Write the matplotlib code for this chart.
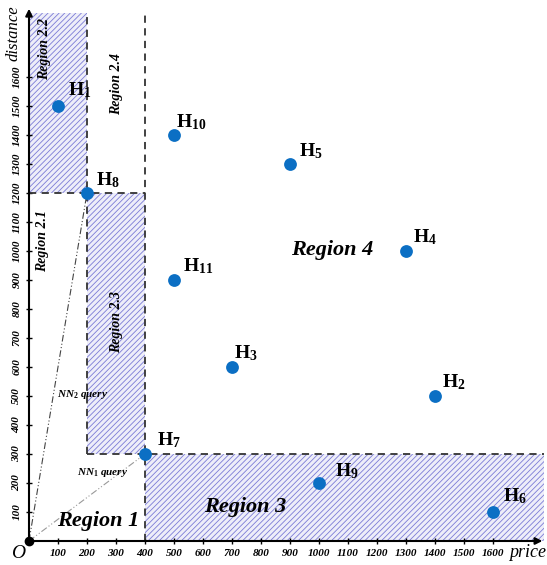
import matplotlib
matplotlib.use("Agg")
import matplotlib.pyplot as plt

plt.rcParams['font.family'] = ['Liberation Serif', 'DejaVu Serif']
plt.rcParams['mathtext.fontset'] = 'custom'
plt.rcParams['mathtext.rm'] = 'Liberation Serif:bold'
plt.rcParams['mathtext.bf'] = 'Liberation Serif:bold'
plt.rcParams['mathtext.it'] = 'Liberation Serif:bold:italic'
plt.rcParams['hatch.linewidth'] = 0.6

# ---- data ----
names = ['H1', 'H2', 'H3', 'H4', 'H5', 'H6', 'H7', 'H8', 'H9', 'H10', 'H11']
price = [100, 1400, 700, 1300, 900, 1600, 400, 200, 1000, 500, 500]
distance = [1500, 500, 600, 1000, 1300, 100, 300, 1200, 200, 1400, 900]
x_ticks = [100, 200, 300, 400, 500, 600, 700, 800, 900, 1000, 1100, 1200, 1300, 1400, 1500, 1600]
y_ticks = [100, 200, 300, 400, 500, 600, 700, 800, 900, 1000, 1100, 1200, 1300, 1400, 1500, 1600]
nn1_price, nn1_dist = 400, 300   # H7
nn2_price, nn2_dist = 200, 1200  # H8

XMAX, YMAX = 1785, 1850
TOP = 1820
RIGHT = 1775

W, H = 547, 565
fig = plt.figure(figsize=(W / 100, H / 100), dpi=100)
ax = fig.add_axes([29 / W, 24 / H, XMAX * 0.29 / W, YMAX * 0.29 / H])
ax.set_xlim(0, XMAX)
ax.set_ylim(0, YMAX)
for s in ['top', 'right', 'left', 'bottom']:
    ax.spines[s].set_visible(False)

hatch_kw = dict(facecolor='#eeeef9', edgecolor='#7b7bd6', hatch='//////', linewidth=0)
# Region 2.2
ax.fill_between([0, nn2_price], nn2_dist, TOP, zorder=1, **hatch_kw)
# Region 2.3
ax.fill_between([nn2_price, nn1_price], nn1_dist, nn2_dist, zorder=1, **hatch_kw)
# Region 3
ax.fill_between([nn1_price, RIGHT], 0, nn1_dist, zorder=1, **hatch_kw)

dash_kw = dict(color='#333333', lw=1.3, ls=(0, (4, 3)), zorder=2)
ax.plot([0, nn1_price], [nn2_dist, nn2_dist], **dash_kw)
ax.plot([nn2_price, RIGHT], [nn1_dist, nn1_dist], **dash_kw)
ax.plot([nn2_price, nn2_price], [nn1_dist, TOP], **dash_kw)
ax.plot([nn1_price, nn1_price], [0, TOP], **dash_kw)

# NN query lines
ax.plot([0, nn2_price], [0, nn2_dist], color='#444444', lw=0.8,
        ls=(0, (6, 2, 1, 2, 1, 2)), zorder=2)
ax.plot([0, nn1_price], [0, nn1_dist], color='#999999', lw=0.8,
        ls=(0, (6, 2, 1, 2, 1, 2)), zorder=2)

# axes with arrows
ax.annotate('', xy=(XMAX - 5, 0), xytext=(0, 0),
            arrowprops=dict(arrowstyle='-|>', color='black', lw=1.5, mutation_scale=10),
            annotation_clip=False, zorder=5)
ax.annotate('', xy=(0, YMAX - 5), xytext=(0, 0),
            arrowprops=dict(arrowstyle='-|>', color='black', lw=1.5, mutation_scale=10),
            annotation_clip=False, zorder=5)
ax.plot([0], [0], 'o', color='black', ms=6, zorder=6, clip_on=False)

# ticks
ax.set_xticks(x_ticks)
ax.set_yticks(y_ticks)
ax.set_xticklabels([str(v) for v in x_ticks], fontsize=8, fontweight='bold', fontstyle='italic')
ax.set_yticklabels([str(v) for v in y_ticks], fontsize=8, fontweight='bold', fontstyle='italic',
                   rotation=90, va='center')
ax.tick_params(axis='both', direction='inout', length=5, width=1, pad=3)

# axis labels
ax.text(-38, -42, 'O', fontsize=14, fontstyle='italic', ha='center', va='center')
ax.text(1655, -10, 'price', fontsize=13, fontstyle='italic', ha='left', va='top')
ax.text(-55, 1848, 'distance', fontsize=12, fontstyle='italic', ha='center', va='top',
        rotation=90)

# points
ax.scatter(price, distance, s=85, color='#0b6fc4', zorder=7, linewidths=0, clip_on=False)
offsets = {'H1': (10, 16), 'H2': (7, 14), 'H3': (2, 14), 'H4': (7, 14), 'H5': (9, 13),
           'H6': (10, 16), 'H7': (12, 14), 'H8': (9, 13), 'H9': (16, 12), 'H10': (2, 13),
           'H11': (9, 14)}
for n, px, py in zip(names, price, distance):
    dx, dy = offsets[n]
    ax.annotate(r'$\mathrm{H}_{\mathrm{%s}}$' % n[1:], (px, py),
                xytext=(dx * 0.72, dy * 0.72), textcoords='offset points',
                fontsize=14, ha='left', va='center', zorder=8)

# region labels
rk = dict(fontweight='bold', fontstyle='italic', ha='center', va='center')
ax.text(1045, 1005, 'Region 4', fontsize=16, **rk)
ax.text(745, 117, 'Region 3', fontsize=16, **rk)
ax.text(237, 70, 'Region 1', fontsize=16, **rk)
ax.text(55, 1695, 'Region 2.2', fontsize=10, rotation=90, **rk)
ax.text(45, 1035, 'Region 2.1', fontsize=10, rotation=90, **rk)
ax.text(303, 1575, 'Region 2.4', fontsize=10, rotation=90, **rk)
ax.text(303, 755, 'Region 2.3', fontsize=10, rotation=90, **rk)
ax.text(95, 505, r'NN$_2$ query', fontsize=8, fontweight='bold', fontstyle='italic', va='center')
ax.text(165, 235, r'NN$_1$ query', fontsize=8, fontweight='bold', fontstyle='italic', va='center')

fig.savefig('out.png', dpi=100)
